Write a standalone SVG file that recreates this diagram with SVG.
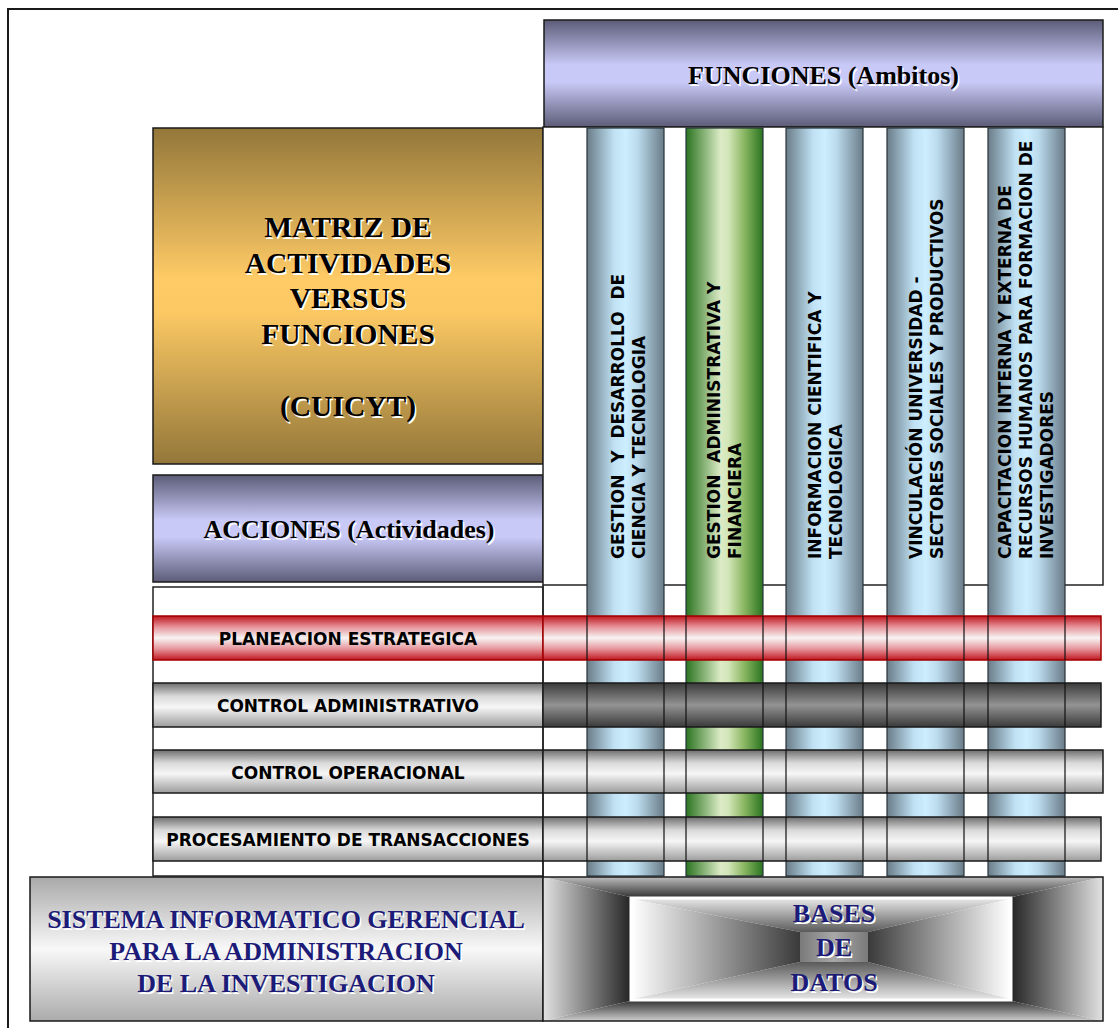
<svg xmlns="http://www.w3.org/2000/svg" width="1118" height="1028" viewBox="0 0 1118 1028">
<defs>
<linearGradient id="gLav" x1="0" y1="0" x2="0" y2="1">
<stop offset="0" stop-color="#5c5c78"/><stop offset="0.42" stop-color="#c9c9f7"/><stop offset="0.58" stop-color="#c9c9f7"/><stop offset="1" stop-color="#5c5c78"/>
</linearGradient>
<linearGradient id="gGold" x1="0" y1="0" x2="0" y2="1">
<stop offset="0" stop-color="#93773a"/><stop offset="0.45" stop-color="#ffcb66"/><stop offset="0.55" stop-color="#fbc863"/><stop offset="1" stop-color="#93773a"/>
</linearGradient>
<linearGradient id="gBlue" x1="0" y1="0" x2="1" y2="0">
<stop offset="0" stop-color="#6a7c88"/><stop offset="0.35" stop-color="#bfe1f3"/><stop offset="0.5" stop-color="#cdeeff"/><stop offset="0.65" stop-color="#bcdcee"/><stop offset="1" stop-color="#6a7c88"/>
</linearGradient>
<linearGradient id="gGreen" x1="0" y1="0" x2="1" y2="0">
<stop offset="0" stop-color="#2a7420"/><stop offset="0.45" stop-color="#dcebc6"/><stop offset="0.55" stop-color="#d2e6b8"/><stop offset="0.75" stop-color="#8cb864"/><stop offset="1" stop-color="#2a7420"/>
</linearGradient>
<linearGradient id="gRed" x1="0" y1="0" x2="0" y2="1">
<stop offset="0" stop-color="#c0161f"/><stop offset="0.25" stop-color="#e6949a"/><stop offset="0.5" stop-color="#f7f4f4"/><stop offset="0.75" stop-color="#e6949a"/><stop offset="1" stop-color="#c0161f"/>
</linearGradient>
<linearGradient id="gSilver" x1="0" y1="0" x2="0" y2="1">
<stop offset="0" stop-color="#6e6e6e"/><stop offset="0.3" stop-color="#d9d9d9"/><stop offset="0.55" stop-color="#f6f6f6"/><stop offset="1" stop-color="#9c9c9c"/>
</linearGradient>
<linearGradient id="gDark" x1="0" y1="0" x2="0" y2="1">
<stop offset="0" stop-color="#3a3a3a"/><stop offset="0.5" stop-color="#939393"/><stop offset="1" stop-color="#3a3a3a"/>
</linearGradient>
<linearGradient id="gSis" x1="0" y1="0" x2="0" y2="1">
<stop offset="0" stop-color="#a9a9a9"/><stop offset="0.5" stop-color="#f8f8f8"/><stop offset="1" stop-color="#ababab"/>
</linearGradient>
<linearGradient id="oTop" x1="0" y1="0" x2="0" y2="1"><stop offset="0" stop-color="#bdbdbd"/><stop offset="1" stop-color="#363636"/></linearGradient>
<linearGradient id="oBot" x1="0" y1="1" x2="0" y2="0"><stop offset="0" stop-color="#cfcfcf"/><stop offset="1" stop-color="#363636"/></linearGradient>
<linearGradient id="oLeft" x1="0" y1="0" x2="1" y2="0"><stop offset="0" stop-color="#e2e2e2"/><stop offset="1" stop-color="#262626"/></linearGradient>
<linearGradient id="oRight" x1="1" y1="0" x2="0" y2="0"><stop offset="0" stop-color="#e2e2e2"/><stop offset="1" stop-color="#262626"/></linearGradient>
<linearGradient id="iTop" x1="0" y1="0" x2="0" y2="1"><stop offset="0" stop-color="#e6e6e6"/><stop offset="1" stop-color="#5a5a5a"/></linearGradient>
<linearGradient id="iBot" x1="0" y1="1" x2="0" y2="0"><stop offset="0" stop-color="#e6e6e6"/><stop offset="1" stop-color="#5a5a5a"/></linearGradient>
<linearGradient id="iLeft" x1="0" y1="0" x2="1" y2="0"><stop offset="0" stop-color="#ffffff"/><stop offset="1" stop-color="#3a3a3a"/></linearGradient>
<linearGradient id="iRight" x1="1" y1="0" x2="0" y2="0"><stop offset="0" stop-color="#ffffff"/><stop offset="1" stop-color="#3a3a3a"/></linearGradient>
<linearGradient id="iMid" x1="0" y1="0" x2="1" y2="0"><stop offset="0" stop-color="#7a7a7a"/><stop offset="0.5" stop-color="#a8a8a8"/><stop offset="1" stop-color="#7a7a7a"/></linearGradient>
</defs>
<style>
.box{stroke:#1a1a1a;stroke-width:1.5}
.col{stroke:#26323a;stroke-width:1.2}
.sep{stroke:#111;stroke-width:1.2}
.ser{font-family:"Liberation Serif","Times New Roman",serif;font-weight:bold;text-anchor:middle}
.sh{fill:#ffffff}
.blk{fill:#000000}
.navy{fill:#1c1c78}
.lbl{font-family:"DejaVu Sans",Verdana,sans-serif;font-weight:bold;font-size:17px;text-anchor:middle;fill:#000}
.vt{font-family:"DejaVu Sans",Verdana,sans-serif;font-weight:bold;font-size:17px;fill:#000;white-space:pre}
</style>
<rect width="1118" height="1028" fill="#ffffff"/>
<path d="M8,1030 V9 H1120" fill="none" stroke="#1a1a1a" stroke-width="2"/>

<g id="funciones">
<rect class="box" x="544" y="20" width="559" height="107" fill="url(#gLav)"/>
<text class="ser sh" x="825" y="86" font-size="26">FUNCIONES (Ambitos)</text>
<text class="ser blk" x="823.5" y="84" font-size="26">FUNCIONES (Ambitos)</text>
</g>

<g id="matriz">
<rect class="box" x="153" y="128" width="390" height="336" fill="url(#gGold)"/>
<g class="ser sh" font-size="29.5">
<text x="349.5" y="239">MATRIZ DE</text><text x="349.5" y="275">ACTIVIDADES</text><text x="349.5" y="310">VERSUS</text><text x="349.5" y="346">FUNCIONES</text><text x="349.5" y="418">(CUICYT)</text>
</g>
<g class="ser blk" font-size="29.5">
<text x="348" y="237">MATRIZ DE</text><text x="348" y="273">ACTIVIDADES</text><text x="348" y="308">VERSUS</text><text x="348" y="344">FUNCIONES</text><text x="348" y="416">(CUICYT)</text>
</g>
</g>

<g id="acciones">
<rect class="box" x="153" y="475" width="390" height="107" fill="url(#gLav)"/>
<text class="ser sh" x="350.5" y="540" font-size="26">ACCIONES (Actividades)</text>
<text class="ser blk" x="349" y="538" font-size="26">ACCIONES (Actividades)</text>
</g>

<g id="grid">
<rect x="543" y="127" width="560" height="458" fill="#ffffff" stroke="#222" stroke-width="1.5"/>
<rect x="153" y="587" width="390" height="289" fill="#ffffff" stroke="#222" stroke-width="1.5"/>
<line x1="543" y1="585" x2="543" y2="877" stroke="#222" stroke-width="1.5"/>
</g>

<g id="columnas">
<rect class="col" x="587" y="128" width="77" height="748" fill="url(#gBlue)"/>
<rect class="col" x="686" y="128" width="77" height="748" fill="url(#gGreen)" stroke="#1c4a14"/>
<rect class="col" x="786" y="128" width="77" height="748" fill="url(#gBlue)"/>
<rect class="col" x="887" y="128" width="77" height="748" fill="url(#gBlue)"/>
<rect class="col" x="988" y="128" width="77" height="748" fill="url(#gBlue)"/>
</g>

<g id="col-textos">
<text class="vt" transform="translate(623.5,559) rotate(-90)">GESTION  Y  DESARROLLO  DE</text>
<text class="vt" transform="translate(645,559) rotate(-90)">CIENCIA Y TECNOLOGIA</text>
<text class="vt" transform="translate(720,559) rotate(-90)">GESTION  ADMINISTRATIVA Y</text>
<text class="vt" transform="translate(741,559) rotate(-90)">FINANCIERA</text>
<text class="vt" transform="translate(821,559) rotate(-90)">INFORMACION CIENTIFICA Y</text>
<text class="vt" transform="translate(842,559) rotate(-90)">TECNOLOGICA</text>
<text class="vt" transform="translate(922,559) rotate(-90)">VINCULACIÓN UNIVERSIDAD -</text>
<text class="vt" transform="translate(943,559) rotate(-90)">SECTORES SOCIALES Y PRODUCTIVOS</text>
<text class="vt" transform="translate(1011,559) rotate(-90)">CAPACITACION INTERNA Y EXTERNA DE</text>
<text class="vt" transform="translate(1032,559) rotate(-90)">RECURSOS HUMANOS PARA FORMACION DE</text>
<text class="vt" transform="translate(1053,559) rotate(-90)">INVESTIGADORES</text>
</g>

<g id="planeacion">
<rect x="153" y="616" width="390" height="44" fill="url(#gRed)" stroke="#a00000" stroke-width="1.5"/>
<rect x="543" y="616" width="558" height="44" fill="url(#gRed)" stroke="#a00000" stroke-width="1.5"/>
<text class="lbl" x="348" y="645">PLANEACION ESTRATEGICA</text>
</g>
<g id="control-administrativo">
<rect class="box" x="153" y="683" width="390" height="44" fill="url(#gSilver)"/>
<rect class="box" x="543" y="683" width="558" height="44" fill="url(#gDark)"/>
<text class="lbl" x="348" y="712">CONTROL ADMINISTRATIVO</text>
</g>
<g id="control-operacional">
<rect class="box" x="153" y="750" width="390" height="43" fill="url(#gSilver)"/>
<rect class="box" x="543" y="750" width="560" height="43" fill="url(#gSilver)"/>
<text class="lbl" x="348" y="779">CONTROL OPERACIONAL</text>
</g>
<g id="procesamiento">
<rect class="box" x="153" y="817" width="390" height="44" fill="url(#gSilver)"/>
<rect class="box" x="543" y="817" width="558" height="44" fill="url(#gSilver)"/>
<text class="lbl" x="348" y="846">PROCESAMIENTO DE TRANSACCIONES</text>
</g>

<g id="cruces">
<path class="sep" d="M587,616V660M664,616V660M686,616V660M763,616V660M786,616V660M863,616V660M887,616V660M964,616V660M988,616V660M1065,616V660"/>
<path class="sep" d="M587,683V727M664,683V727M686,683V727M763,683V727M786,683V727M863,683V727M887,683V727M964,683V727M988,683V727M1065,683V727"/>
<path class="sep" d="M587,750V793M664,750V793M686,750V793M763,750V793M786,750V793M863,750V793M887,750V793M964,750V793M988,750V793M1065,750V793"/>
<path class="sep" d="M587,817V861M664,817V861M686,817V861M763,817V861M786,817V861M863,817V861M887,817V861M964,817V861M988,817V861M1065,817V861"/>
</g>

<g id="sistema">
<rect class="box" x="30" y="877" width="513" height="144" fill="url(#gSis)"/>
<g class="ser sh" font-size="26">
<text x="287.5" y="930">SISTEMA INFORMATICO GERENCIAL</text><text x="287.5" y="962">PARA LA ADMINISTRACION</text><text x="287.5" y="994">DE LA INVESTIGACION</text>
</g>
<g class="ser navy" font-size="26">
<text x="286" y="928">SISTEMA INFORMATICO GERENCIAL</text><text x="286" y="960">PARA LA ADMINISTRACION</text><text x="286" y="992">DE LA INVESTIGACION</text>
</g>
</g>

<g id="bases-de-datos">
<polygon points="543,877 1103,877 1012,897 630,897" fill="url(#oTop)"/>
<polygon points="543,1021 1103,1021 1012,1001 630,1001" fill="url(#oBot)"/>
<polygon points="543,877 630,897 630,1001 543,1021" fill="url(#oLeft)"/>
<polygon points="1103,877 1012,897 1012,1001 1103,1021" fill="url(#oRight)"/>
<rect x="543" y="877" width="560" height="144" fill="none" stroke="#1a1a1a" stroke-width="1.5"/>
<polygon points="632,899 1010,899 868,932 800,932" fill="url(#iTop)"/>
<polygon points="632,999 1010,999 868,962 800,962" fill="url(#iBot)"/>
<polygon points="632,899 800,932 800,962 632,999" fill="url(#iLeft)"/>
<polygon points="1010,899 868,932 868,962 1010,999" fill="url(#iRight)"/>
<rect x="800" y="932" width="68" height="30" fill="url(#iMid)"/>
<rect x="631" y="898" width="380" height="102" fill="none" stroke="#ffffff" stroke-width="3"/>
<g class="ser sh" font-size="26">
<text x="835.5" y="924">BASES</text><text x="835.5" y="958">DE</text><text x="835.5" y="993">DATOS</text>
</g>
<g class="ser navy" font-size="26">
<text x="834" y="922">BASES</text><text x="834" y="956">DE</text><text x="834" y="991">DATOS</text>
</g>
</g>

<g id="connectors"/>
</svg>
